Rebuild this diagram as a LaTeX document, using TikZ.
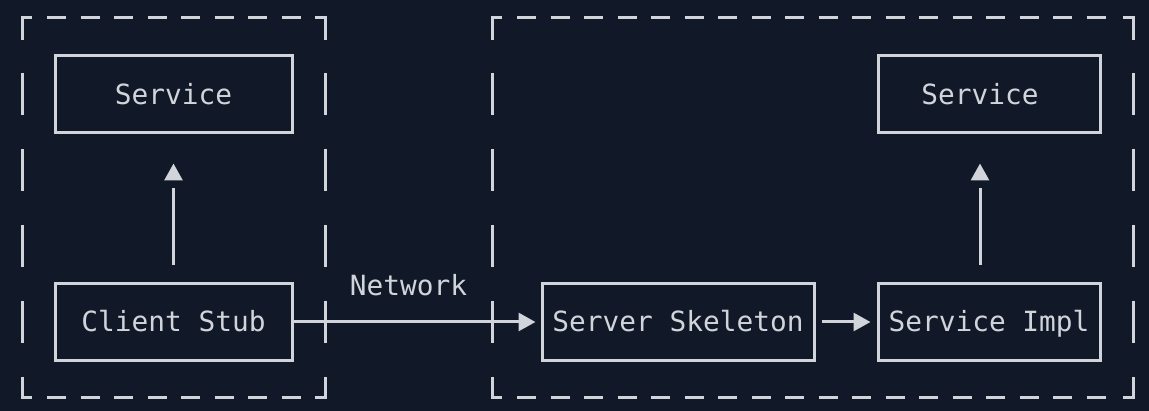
\documentclass[tikz,border=0pt]{standalone}
\usepackage{fontspec}
\setmonofont{DejaVu Sans Mono}
\usetikzlibrary{arrows.meta}
\definecolor{bg}{HTML}{111827}
\definecolor{fg}{HTML}{D1D5DB}
\begin{document}
\begin{tikzpicture}[x=1pt,y=-1pt,
  txt/.style={text=fg, font=\ttfamily\fontsize{27.8}{33}\selectfont},
  box/.style={txt, draw=fg, line width=3pt, minimum width=#1, minimum height=77pt,
    inner sep=0pt, text height=20pt, text depth=0pt},
  conn/.style={draw=fg, line width=3pt},
  tip/.style={-{Triangle[length=17pt,width=18pt]}},
  dline/.style={draw=fg, line width=3pt},
  hd/.style={dline, dash pattern=on 19pt off 14.5pt},
  vd/.style={dline, dash pattern=on 42pt off 34pt}
]
\fill[bg] (0,0) rectangle (1149,411);
\useasboundingbox (0,0) rectangle (1149,411);

% dashed frames
\foreach \xl/\xr/\xs/\xe in {22/325/47/301, 492/1133/517/1106}{
  \draw[dline] (\xl+10,18) -- (\xl,18) -- (\xl,40);
  \draw[dline] (\xr-10,18) -- (\xr,18) -- (\xr,40);
  \draw[dline] (\xl,377) -- (\xl,398) -- (\xl+10,398);
  \draw[dline] (\xr,377) -- (\xr,398) -- (\xr-10,398);
  \draw[hd] (\xs,18) -- (\xe,18);
  \draw[hd] (\xs,398) -- (\xe,398);
  \draw[vd] (\xl,73) -- (\xl,343);
  \draw[vd] (\xr,73) -- (\xr,343);
}

% boxes
\node[box=237pt] (s1) at (173.5,94.5) {Service};
\node[box=237pt] (cs) at (173.5,322) {Client Stub};
\node[box=272pt] (ss) at (678,322) {Server Skeleton};
\node[box=222pt] (si) at (989,322) {Service Impl};
\node[box=222pt] (s2) at (989,94.5) {\hspace*{-18pt}Service};

% label
\node[txt, anchor=base] (net) at (408.5,296) {Network};

% connectors
\draw[conn, tip, shorten >=5pt] (cs.east) -- (ss.west);
\draw[conn, tip, shorten <=6pt, shorten >=6pt] (ss.east) -- (si.west);

\draw[conn, shorten <=17pt, shorten >=54pt] (cs.north) -- (s1.south);
\draw[conn, tip, shorten <=105pt, shorten >=29pt] (cs.north) -- (s1.south);

\draw[conn, shorten <=17pt, shorten >=54pt] ([xshift=-9pt]si.north) -- ([xshift=-9pt]s2.south);
\draw[conn, tip, shorten <=105pt, shorten >=29pt] ([xshift=-9pt]si.north) -- ([xshift=-9pt]s2.south);
\end{tikzpicture}
\end{document}
